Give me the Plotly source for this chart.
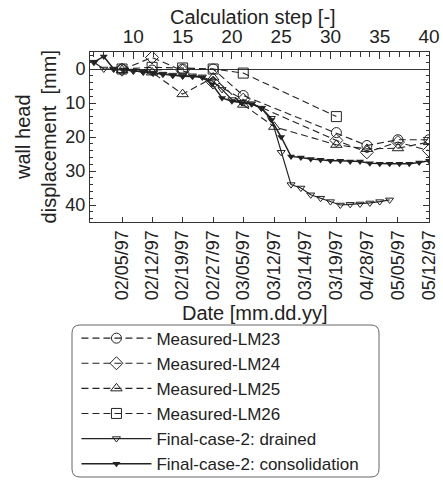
import plotly.graph_objects as go

# ---------------- data ----------------
# bottom axis: measurement dates, located on the calculation-step scale
dates = ["02/05/97", "02/12/97", "02/19/97", "02/27/97", "03/05/97", "03/12/97",
         "03/14/97", "03/19/97", "04/28/97", "05/05/97", "05/12/97"]
date_steps = [8.85, 11.9, 15.0, 18.1, 21.15, 24.3, 27.45, 30.6, 33.7, 36.85, 40.0]

# measured wall head displacement [mm] at the dates (None = no reading)
lm23 = [0.0, 0.3, 0.0, 0.0, 7.8, None, None, 18.7, 22.5, 20.8, 20.8]
lm24 = [0.2, -3.4, 0.5, 4.0, 9.0, None, None, 21.0, 24.5, 21.5, 24.0]
lm25 = [0.3, 1.0, 7.4, 2.5, 10.5, 17.0, None, 22.3, 23.5, 23.3, 21.5]
lm26 = [0.0, -0.5, -0.3, 0.0, 1.2, None, None, 14.0, None, None, None]

# simulated results per calculation step
steps_drained = list(range(6, 37))
drained = [-2.0, 0.0, 0.0, 0.3, 0.6, 0.9, 1.2, 1.5, 1.8, 2.0, 2.0, 2.3, 3.5, 6.0,
           9.0, 9.8, 10.2, 11.5, 14.5, 24.5, 34.0, 35.0, 37.0, 38.0, 39.0, 40.0,
           39.8, 39.7, 39.4, 39.0, 38.5]
steps_consol = list(range(6, 41))
consol = [-2.0, -3.7, 0.0, 0.2, 0.5, 0.9, 1.2, 1.5, 1.9, 2.1, 2.2, 2.4, 4.5, 8.5,
          9.5, 10.0, 10.3, 11.5, 15.0, 20.0, 25.7, 26.0, 26.5, 26.7, 27.0, 27.0,
          27.2, 27.2, 27.7, 27.9, 27.9, 27.9, 27.9, 27.5, 27.0]

step_ticks = [10, 15, 20, 25, 30, 35, 40]
y_ticks = [0, 10, 20, 30, 40]

x_title = "Date [mm.dd.yy]"
x2_title = "Calculation step [-]"
y_title = "wall head<br>displacement  [mm]"

# ---------------- figure ----------------
FONT = "Liberation Sans, Arial, sans-serif"
fig = go.Figure()

dash = "7px,4px"
meas = [("Measured-LM23", lm23, "circle-open"),
        ("Measured-LM24", lm24, "diamond-open"),
        ("Measured-LM25", lm25, "triangle-up-open"),
        ("Measured-LM26", lm26, "square-open")]
for name, vals, sym in meas:
    fig.add_trace(go.Scatter(
        x=date_steps, y=vals, name=name, mode="lines+markers", connectgaps=True,
        line=dict(color="#222", width=1.1, dash=dash),
        marker=dict(symbol=sym, size=10, color="#222", line=dict(width=1, color="#222")),
    ))

fig.add_trace(go.Scatter(
    x=steps_drained, y=drained, name="Final-case-2: drained", mode="lines+markers",
    line=dict(color="#222", width=1.2),
    marker=dict(symbol="triangle-down-open", size=7, color="#222", line=dict(width=1, color="#222")),
))
fig.add_trace(go.Scatter(
    x=steps_consol, y=consol, name="Final-case-2: consolidation", mode="lines+markers",
    line=dict(color="#222", width=1.5),
    marker=dict(symbol="triangle-down", size=7, color="#222"),
))
# carrier trace so the top (calculation step) axis is drawn
fig.add_trace(go.Scatter(x=[steps_consol[-1]], y=[consol[-1]], xaxis="x2", mode="markers",
                         marker=dict(opacity=0), showlegend=False, hoverinfo="skip"))

xr = [5.6, 40]
fig.update_layout(
    width=443, height=480,
    margin=dict(l=90, r=14, t=52, b=258, autoexpand=False),
    paper_bgcolor="white", plot_bgcolor="white",
    font=dict(family=FONT, size=18, color="#222"),
    showlegend=True,
    xaxis=dict(
        range=xr, tickmode="array", tickvals=date_steps, ticktext=dates, tickangle=-90,
        ticks="inside", ticklen=5, tickcolor="#333", showline=True, linecolor="#333",
        showgrid=False, zeroline=False, tickfont=dict(size=18), automargin=False,
    ),
    xaxis2=dict(
        range=xr, overlaying="x", side="top", tickmode="array", tickvals=step_ticks,
        ticks="inside", ticklen=7, tickcolor="#333", showline=True, linecolor="#333",
        showgrid=False, zeroline=False, tickfont=dict(size=19), automargin=False,
        minor=dict(dtick=1, tick0=0, ticks="inside", ticklen=5, tickcolor="#333"),
    ),
    yaxis=dict(
        range=[45, -5], tickmode="array", tickvals=y_ticks, ticks="inside", ticklen=6,
        tickcolor="#333", showline=True, linecolor="#333", mirror="ticks",
        showgrid=False, zeroline=True, zerolinecolor="#333", zerolinewidth=1,
        minor=dict(dtick=2, tick0=0, ticks="inside", ticklen=3, tickcolor="#333"),
        tickfont=dict(size=18), automargin=False,
    ),
    legend=dict(
        x=-0.04, y=-0.58, xanchor="left", yanchor="top",
        bgcolor="rgba(0,0,0,0)", borderwidth=0, font=dict(size=17),
        itemwidth=70, tracegroupgap=0,
    ),
)

# axis titles placed as annotations (exact positions)
fig.add_annotation(text=x2_title, xref="paper", yref="paper", x=0.48, y=1.205,
                   showarrow=False, font=dict(size=20), xanchor="center", yanchor="middle")
fig.add_annotation(text=x_title, xref="paper", yref="paper", x=0.487, y=-0.535,
                   showarrow=False, font=dict(size=20), xanchor="center", yanchor="middle")
fig.add_annotation(text=y_title, xref="paper", yref="paper", x=-0.158, y=0.5,
                   showarrow=False, font=dict(size=20), textangle=-90,
                   xanchor="center", yanchor="middle")

# rounded legend frame
x0, x1 = (72 - 90) / 339, (379 - 90) / 339
y0, y1 = (222 - 325) / 170, (222 - 477) / 170
rx, ry = 8 / 339, 8 / 170
path = (f"M {x0+rx},{y0} L {x1-rx},{y0} Q {x1},{y0} {x1},{y0-ry} "
        f"L {x1},{y1+ry} Q {x1},{y1} {x1-rx},{y1} L {x0+rx},{y1} "
        f"Q {x0},{y1} {x0},{y1+ry} L {x0},{y0-ry} Q {x0},{y0} {x0+rx},{y0} Z")
fig.add_shape(type="path", path=path, xref="paper", yref="paper",
              line=dict(color="#666", width=1))

fig.write_html("out.html")
